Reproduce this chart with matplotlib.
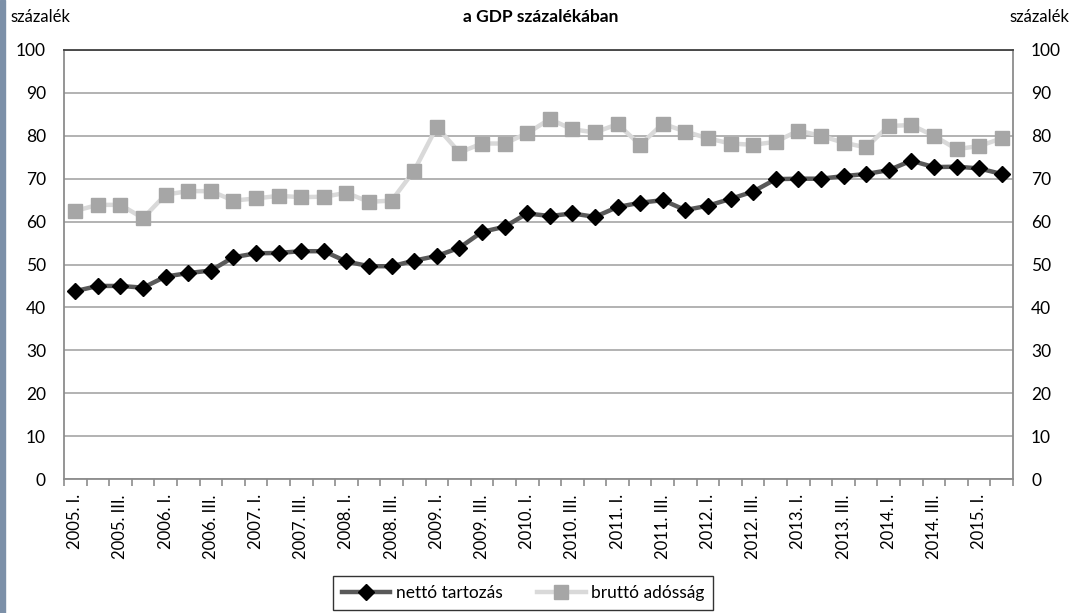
import numpy as np
import matplotlib
matplotlib.use("Agg")
import matplotlib.pyplot as plt
from matplotlib.patches import Rectangle

plt.rcParams["font.family"] = ["Lato", "DejaVu Sans"]

# quarters 2005 I .. 2015 II
years = list(range(2005, 2016))
roman = ["I.", "II.", "III.", "IV."]
quarters = [f"{y}. {q}" for y in years for q in roman][:42]

netto = [43.8, 45.0, 45.0, 44.6, 47.2, 48.0, 48.6, 51.7, 52.6, 52.7, 53.1, 53.1,
         50.7, 49.6, 49.6, 50.9, 52.0, 53.9, 57.6, 58.8, 61.9, 61.3, 61.9, 61.1,
         63.4, 64.4, 65.0, 62.7, 63.7, 65.3, 67.0, 69.9, 70.0, 70.0, 70.6, 71.1,
         72.0, 74.2, 72.7, 72.8, 72.4, 71.1]
brutto = [62.5, 63.9, 63.9, 60.8, 66.3, 67.1, 67.1, 64.9, 65.4, 66.0, 65.7, 65.8,
          66.7, 64.6, 64.9, 71.9, 82.1, 76.1, 78.2, 78.2, 80.6, 83.9, 81.5, 80.8,
          82.7, 77.9, 82.8, 81.0, 79.4, 78.2, 77.9, 78.6, 81.2, 80.0, 78.4, 77.3,
          82.3, 82.5, 80.0, 76.9, 77.6, 79.4]

fig = plt.figure(figsize=(10.77, 6.13), dpi=100)
ax = fig.add_axes([64 / 1077, 1 - 479 / 613, (1013 - 64) / 1077, (479 - 50) / 613])

x = np.arange(len(quarters))
ax.plot(x, netto, color="#595959", lw=3.2, marker="D", ms=8.5,
        mfc="black", mec="black", label="nettó tartozás", zorder=4)
ax.plot(x, brutto, color="#d9d9d9", lw=3.2, marker="s", ms=10,
        mfc="#a6a6a6", mec="#a6a6a6", label="bruttó adósság", zorder=3)

ax.set_xlim(-0.5, len(quarters) - 0.5)
ax.set_ylim(0, 100)
ax.set_yticks(range(0, 101, 10))
ax.grid(axis="y", color="#a6a6a6", lw=1.2)
ax.set_axisbelow(True)
for s in ax.spines.values():
    s.set_color("#8c8c8c")
    s.set_linewidth(1.3)
ax.spines["top"].set_color("#404040")

ax.set_xticks(x[::2])
ax.set_xticklabels(quarters[::2], rotation=90, fontsize=12, va="top")
ax.set_xticks(np.arange(-0.5, len(quarters)), minor=True)
ax.tick_params(axis="x", which="major", length=0, pad=11)
ax.tick_params(axis="x", which="minor", length=5, color="#8c8c8c", width=1.2)
ax.tick_params(axis="y", length=0, labelsize=12.5, pad=13)

ax2 = ax.twinx()
ax2.set_ylim(0, 100)
ax2.set_yticks(range(0, 101, 10))
ax2.tick_params(axis="y", length=0, labelsize=12.5, pad=13)
for s in ax2.spines.values():
    s.set_visible(False)

fig.text(541 / 1077, 1 - 17 / 613, "a GDP százalékában", ha="center", va="center",
         fontsize=12.5, fontweight="bold")
fig.text(10 / 1077, 1 - 17 / 613, "százalék", ha="left", va="center", fontsize=12)
fig.text(1069 / 1077, 1 - 17 / 613, "százalék", ha="right", va="center", fontsize=12)

fig.legend(loc="center", bbox_to_anchor=(523 / 1077, 1 - 593 / 613), ncol=2,
           frameon=True, fancybox=False, edgecolor="black", fontsize=12.5,
           handlelength=2.8, handletextpad=0.3, columnspacing=2, borderpad=0.5)

fig.patches.append(Rectangle((0, 0), 5 / 1077, 1, transform=fig.transFigure,
                             color="#7c90a8", zorder=0))

fig.savefig("out.png", dpi=100)
